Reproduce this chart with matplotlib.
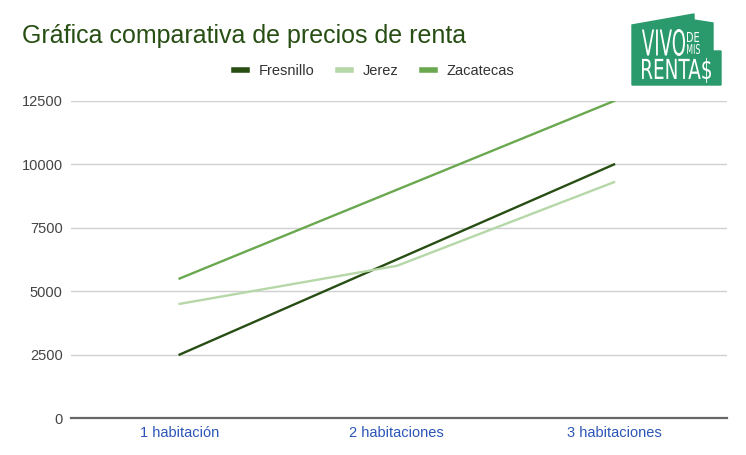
import matplotlib
matplotlib.use("Agg")
import matplotlib.pyplot as plt
from matplotlib.patches import Polygon, PathPatch
from matplotlib.textpath import TextPath
from matplotlib.font_manager import FontProperties
from matplotlib.transforms import Affine2D

categorias = ["1 habitación", "2 habitaciones", "3 habitaciones"]
fresnillo = [2500, 6250, 10000]
jerez = [4500, 6000, 9300]
zacatecas = [5500, 9000, 12500]
ticks_y = [0, 2500, 5000, 7500, 10000, 12500]

plt.rcParams['font.family'] = ['Liberation Sans', 'DejaVu Sans']

W, H = 746, 455
fig = plt.figure(figsize=(W / 100, H / 100), dpi=100)
ax = fig.add_axes([71 / W, 1 - 418 / H, (727 - 71) / W, (418 - 101) / H])

x = range(len(categorias))
ax.plot(x, fresnillo, color='#274e13', lw=1.7, label='Fresnillo', zorder=3)
ax.plot(x, jerez, color='#b6d7a8', lw=1.7, label='Jerez', zorder=3)
ax.plot(x, zacatecas, color='#6aa84f', lw=1.7, label='Zacatecas', zorder=3)

ax.set_xlim(-0.5, 2.52)
ax.set_ylim(0, 12500)
ax.set_yticks(ticks_y)
ax.set_yticklabels([str(v) for v in ticks_y], fontsize=10.5, color='#444444')
ax.set_xticks(list(x))
ax.set_xticklabels(categorias, fontsize=10.5, color='#2b55b8')
ax.tick_params(axis='y', length=0, pad=6)
ax.tick_params(axis='x', length=0, pad=6)
ax.grid(axis='y', color='#d0d0d0', lw=1)
ax.set_axisbelow(True)
for s in ['top', 'right', 'left']:
    ax.spines[s].set_visible(False)
ax.spines['bottom'].set_color('#666666')
ax.spines['bottom'].set_linewidth(1.6)
ax.spines['bottom'].set_zorder(4)

fig.text(22 / W, 1 - 36 / H, "Gráfica comparativa de precios de renta",
         fontsize=18, color='#274e13', va='center', ha='left')

leg = fig.legend(loc='center', bbox_to_anchor=(374 / W, 1 - 71 / H), ncol=3,
                 frameon=False, fontsize=10.5, handlelength=0.9, handletextpad=0.8,
                 columnspacing=1.6)
for t in leg.get_texts():
    t.set_color('#333333')
for h in leg.get_lines():
    h.set_linewidth(4)

# logo "Vivo de mis rentas"
px = lambda a, b: (a / W, 1 - b / H)
casa = [px(632, 85), px(632, 25), px(694, 14), px(694, 20), px(713, 23),
        px(713, 51), px(721, 51), px(721, 85)]
fig.patches.append(Polygon(casa, closed=True, transform=fig.transFigure,
                           color='#2a9a6c', zorder=5))


def texto_logo(s, x0, y0, x1, y1):
    # estira el texto para que llene la caja (x0, y0)-(x1, y1) en píxeles
    tp = TextPath((0, 0), s, size=10, prop=FontProperties(family='DejaVu Sans'))
    ext = tp.get_extents()
    sx = (x1 - x0) / ext.width
    sy = (y1 - y0) / ext.height
    tr = (Affine2D().translate(-ext.x0, -ext.y0).scale(sx / W, sy / H)
          .translate(x0 / W, 1 - y1 / H) + fig.transFigure)
    fig.patches.append(PathPatch(tp, transform=tr, color='white', lw=0, zorder=6))


texto_logo("VIVO", 642, 29, 685, 56)
texto_logo("DE", 687, 32, 699, 42)
texto_logo("MIS", 687, 44, 700, 54)
texto_logo("RENTA$", 642, 58, 711, 83)

fig.savefig("out.png", dpi=100, facecolor='white')
